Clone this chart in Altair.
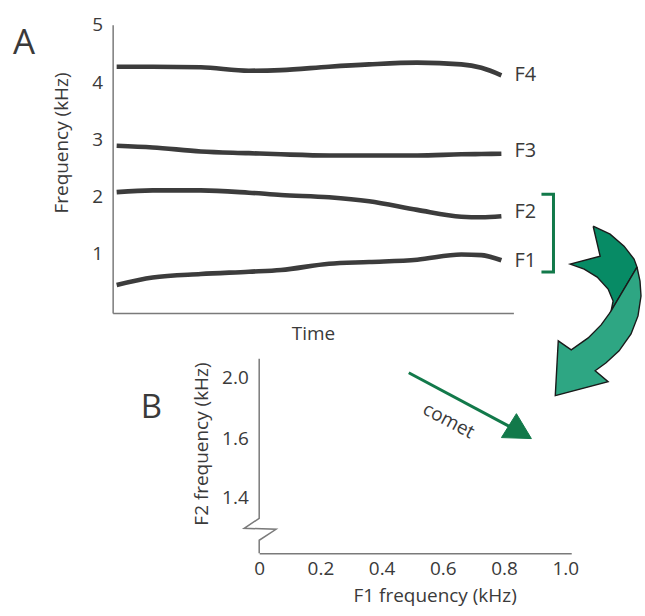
import altair as alt
import pandas as pd

# ---------------- Panel A data (time in % of utterance, frequency in kHz) -------------
time_pts = [1, 10, 22, 34, 42, 54, 64, 76, 87, 92, 97]
f1 = [0.46, 0.59, 0.65, 0.69, 0.72, 0.83, 0.86, 0.90, 0.99, 0.98, 0.89]
f2 = [2.08, 2.11, 2.11, 2.07, 2.03, 1.99, 1.92, 1.77, 1.65, 1.64, 1.66]
f3 = [2.89, 2.86, 2.79, 2.76, 2.74, 2.72, 2.72, 2.72, 2.74, 2.745, 2.75]
f4 = [4.27, 4.27, 4.26, 4.20, 4.21, 4.27, 4.31, 4.34, 4.31, 4.25, 4.12]
formant_names = ["F1", "F2", "F3", "F4"]
label_time = [100, 100, 100, 100]
label_freq = [0.875, 1.728, 2.79, 4.13]
a_ticks = [1, 2, 3, 4, 5]

# bracket grouping F1 and F2
bracket_t = [107, 110, 110, 107]
bracket_f = [2.041, 2.041, 0.684, 0.684]

# big curved arrow (two tones), outline vertices in panel-A units
arrow_dark_t = [119.90, 124.13, 127.61, 130.10, 130.85, 124.38, 124.88, 123.63, 120.90, 117.66, 114.18, 121.64, 119.90]
arrow_dark_f = [1.4845, 1.3453, 1.1365, 0.9102, 0.7710, 0.0052, 0.1793, 0.3881, 0.5969, 0.7362, 0.8232, 0.9624, 1.4845]
arrow_light_t = [130.85, 131.59, 131.84, 131.09, 129.35, 126.37, 123.13, 120.40, 123.63, 110.45, 111.19, 114.43, 118.66, 121.89, 123.88, 124.38, 130.85]
arrow_light_f = [0.7710, 0.5273, 0.2663, -0.0818, -0.3951, -0.6909, -0.8998, -1.0390, -1.2304, -1.4741, -0.5169, -0.6735, -0.4647, -0.2384, -0.0470, 0.0052, 0.7710]

# ---------------- Panel B data (F1 kHz vs F2 kHz) -------------
b_x_ticks = [0, 0.2, 0.4, 0.6, 0.8, 1.0]
b_y_ticks = [1.4, 1.6, 2.0]
# y axis line with a scale break
axis_break_x = [0, 0, -0.049, 0.055, 0, 0]
axis_break_y = [2.12, 1.2875, 1.2339, 1.2286, 1.1696, 1.1]
# "comet" arrow
comet_x = [0.4886, 0.8306]
comet_y = [2.0316, 1.6656]
comet_head_x = [0.7915, 0.8404, 0.8893, 0.7915]
comet_head_y = [1.6066, 1.7639, 1.6000, 1.6066]
comet_label_x = [0.619]
comet_label_y = [1.718]

FONT = "Open Sans"
TXT = "#3a3a3a"
LINE = "#3c3c3c"
GREEN = "#12794a"
AX = "#7a7a7a"

# ---------------- Panel A -------------
xA = alt.Scale(domain=[0, 100], nice=False, zero=False)
yA = alt.Scale(domain=[-0.03, 5], nice=False, zero=False)
XA = alt.X("t:Q", scale=xA, title="Time")
YA = alt.Y("f:Q", scale=yA, title="Frequency (kHz)")

rows = []
for name, vals in zip(formant_names, [f1, f2, f3, f4]):
    for t, v in zip(time_pts, vals):
        rows.append({"formant": name, "t": t, "f": v})
tracks = pd.DataFrame(rows)

lines = alt.Chart(tracks).mark_line(strokeWidth=4.6, color=LINE, interpolate="monotone").encode(
    x=alt.X("t:Q", scale=xA, axis=alt.Axis(title="Time", labels=False, ticks=False, tickSize=0,
                                           grid=False, titlePadding=12, titleFontSize=19)),
    y=alt.Y("f:Q", scale=yA, axis=alt.Axis(title="Frequency (kHz)", values=a_ticks, ticks=False, format="d",
                                           tickSize=0, grid=False, labelPadding=10, labelFontSize=19,
                                           titleFontSize=19, titleX=-41, titleY=118)),
    detail="formant:N",
)

labels = alt.Chart(pd.DataFrame({"t": label_time, "f": label_freq, "name": formant_names})).mark_text(
    align="left", baseline="middle", dx=1, fontSize=20, color=TXT
).encode(x=XA, y=YA, text="name:N")

bracket = alt.Chart(pd.DataFrame({"t": bracket_t, "f": bracket_f, "i": range(4)})).mark_line(
    color=GREEN, strokeWidth=3
).encode(x=XA, y=YA, order="i:Q")

arrow_dark = alt.Chart(pd.DataFrame({"t": arrow_dark_t, "f": arrow_dark_f, "i": range(len(arrow_dark_t))})).mark_line(
    fill="#078b65", stroke="#1a1a1a", strokeWidth=1.4, strokeJoin="miter"
).encode(x=XA, y=YA, order="i:Q")

arrow_light = alt.Chart(pd.DataFrame({"t": arrow_light_t, "f": arrow_light_f, "i": range(len(arrow_light_t))})).mark_line(
    fill="#2ea683", stroke="#1a1a1a", strokeWidth=1.4, strokeJoin="miter"
).encode(x=XA, y=YA, order="i:Q")

letter_a = alt.Chart(pd.DataFrame({"t": [-22.1], "f": [4.69], "s": ["A"]})).mark_text(
    fontSize=35, color=TXT, align="center", baseline="middle"
).encode(x=XA, y=YA, text="s:N")

panel_a = alt.layer(lines, labels, bracket, arrow_dark, arrow_light, letter_a).properties(width=402, height=289)

# ---------------- Panel B -------------
xB = alt.Scale(domain=[0, 1.0195], nice=False, zero=False)
yB = alt.Scale(domain=[1.1, 1.4, 1.6, 2.0, 2.12], range=[195, 139, 80, 19, 0], nice=False, zero=False)
XB = alt.X("x:Q", scale=xB, title="F1 frequency (kHz)")
YB = alt.Y("y:Q", scale=yB, title="F2 frequency (kHz)")

axis_line = alt.Chart(pd.DataFrame({"x": axis_break_x, "y": axis_break_y, "i": range(len(axis_break_x))})).mark_line(
    color=AX, strokeWidth=1.5
).encode(
    x=alt.X("x:Q", scale=xB, axis=alt.Axis(title="F1 frequency (kHz)", values=b_x_ticks, ticks=False, tickSize=0,
                                           grid=False, labelPadding=6, labelFontSize=19, titleFontSize=19,
                                           labelExpr="datum.value == 0 ? '0' : format(datum.value, '.1f')",
                                           titleX=176, titleY=33, labelFlush=False)),
    y=alt.Y("y:Q", scale=yB, axis=alt.Axis(title="F2 frequency (kHz)", values=b_y_ticks, ticks=False, tickSize=0,
                                           grid=False, domain=False, labelPadding=11, labelFontSize=19,
                                           titleFontSize=19, format=".1f", titleX=-48, titleY=85)),
    order="i:Q",
)

comet_line = alt.Chart(pd.DataFrame({"x": comet_x, "y": comet_y})).mark_line(color=GREEN, strokeWidth=3).encode(
    x=XB, y=YB
)
comet_head = alt.Chart(pd.DataFrame({"x": comet_head_x, "y": comet_head_y, "i": range(4)})).mark_line(
    fill=GREEN, stroke=GREEN, strokeWidth=1
).encode(x=XB, y=YB, order="i:Q")
comet_text = alt.Chart(pd.DataFrame({"x": comet_label_x, "y": comet_label_y, "s": ["comet"]})).mark_text(
    angle=28, fontSize=19, color=TXT, align="center", baseline="middle"
).encode(x=XB, y=YB, text="s:N")

letter_b = alt.Chart(pd.DataFrame({"x": [-0.352], "y": [1.803], "s": ["B"]})).mark_text(
    fontSize=33, color=TXT, align="center", baseline="middle"
).encode(x=XB, y=YB, text="s:N")

panel_b = alt.layer(axis_line, comet_line, comet_head, comet_text, letter_b).properties(width=313, height=195)

spacer = alt.Chart(pd.DataFrame({"x": [0]})).mark_point(opacity=0).encode(
    x=alt.X("x:Q", axis=None), y=alt.Y("x:Q", axis=None)
).properties(width=147, height=195)

bottom = alt.hconcat(spacer, panel_b, spacing=0, bounds="flush")

chart = alt.vconcat(panel_a, bottom, spacing=46, bounds="flush").properties(
    padding={"left": 12, "top": 14, "right": 0, "bottom": 0}
).configure_view(stroke="transparent").configure_axis(
    labelFont=FONT, titleFont=FONT, labelColor=TXT, titleColor=TXT, titleFontWeight="normal",
    domainColor=AX, domainWidth=1.5
).configure_text(font=FONT).configure_concat(spacing=0)

chart.save("out.html", embed_options={"renderer": "svg", "actions": False})
